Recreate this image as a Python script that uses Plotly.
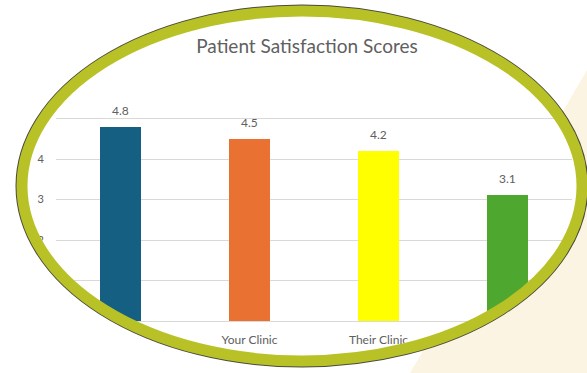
import numpy as np
import plotly.graph_objects as go

# ---- data ----
categories = ["", "Your Clinic", "Their Clinic", ""]
scores = [4.8, 4.5, 4.2, 3.1]
bar_colors = ["#156082", "#E97132", "#FFFF00", "#4EA72E"]
y_ticks = [0, 1, 2, 3, 4, 5, 6]
title_text = "Patient Satisfaction Scores"

W, H = 587, 373
L, R, T, B = 56, 15, 78, 52
PW, PH = W - L - R, H - T - B

def px(x):
    return (x - L) / PW

def py(y):
    return (H - B - y) / PH

xs = list(range(len(categories)))

fig = go.Figure()
fig.add_trace(go.Bar(
    x=xs, y=scores, marker=dict(color=bar_colors, line=dict(width=0)),
    width=0.32, showlegend=False, hoverinfo="skip",
))

gray = "#606060"
annotations = [
    dict(x=x, y=v, text=f"{v}", showarrow=False, yanchor="bottom", yshift=7,
         font=dict(family="Lato", size=12, color=gray))
    for x, v in zip(xs, scores)
]

# ---- decorative ellipse frame ----
cx, cy, a, b = 302, 186, 280, 175
t = np.linspace(0, 2 * np.pi, 241)
ex = cx + a * np.cos(t)
ey = cy + b * np.sin(t)
ell = "M " + " L ".join(f"{px(x):.4f},{py(y):.4f}" for x, y in zip(ex, ey)) + " Z"
rect = f"M {px(-20):.4f},{py(-20):.4f} L {px(W+20):.4f},{py(-20):.4f} L {px(W+20):.4f},{py(H+20):.4f} L {px(-20):.4f},{py(H+20):.4f} Z"

# cream region: right of a diagonal line, outside the ellipse
pts = []
ys = np.linspace(70, H + 5, 160)
for y in ys:
    lx = 410 + (H - y) * (177 / 303)
    if abs(y - cy) < b:
        hw = a * np.sqrt(1 - ((y - cy) / b) ** 2)
        if cx - hw < lx < cx + hw:
            lx = cx + hw
    pts.append((min(lx, W + 20), y))
cream = "M " + " L ".join(f"{px(x):.4f},{py(y):.4f}" for x, y in pts)
cream += f" L {px(W+20):.4f},{py(H+5):.4f} L {px(W+20):.4f},{py(70):.4f} Z"

shapes = [
    dict(type="path", path=rect + " " + ell, xref="paper", yref="paper",
         fillcolor="white", fillrule="evenodd", line=dict(width=0), layer="above"),
    dict(type="path", path=cream, xref="paper", yref="paper",
         fillcolor="#fcf4e3", line=dict(width=0), layer="above"),
    dict(type="circle", xref="paper", yref="paper",
         x0=px(cx - a - 5.5), x1=px(cx + a + 5.5), y0=py(cy + b + 5.5), y1=py(cy - b - 5.5),
         line=dict(color="#4a4a3c", width=2), layer="above"),
    dict(type="circle", xref="paper", yref="paper",
         x0=px(cx - a), x1=px(cx + a), y0=py(cy + b), y1=py(cy - b),
         line=dict(color="#b8c226", width=11), layer="above"),
]

fig.update_layout(
    width=W, height=H,
    margin=dict(l=L, r=R, t=T, b=B),
    paper_bgcolor="white", plot_bgcolor="white",
    title=dict(text=title_text, x=307 / W, xref="container", xanchor="center",
               y=1 - 46 / H, yref="container", yanchor="middle",
               font=dict(family="Lato", size=19, color=gray)),
    xaxis=dict(range=[-0.5, 3.5], tickvals=xs, ticktext=categories,
               showgrid=False, zeroline=False, showline=True, linecolor="#d9d9d9",
               linewidth=1, ticks="", ticklabelstandoff=8,
               tickfont=dict(family="Lato", size=12, color=gray), fixedrange=True),
    yaxis=dict(range=[0, 6], tickvals=y_ticks, showgrid=True, gridcolor="#d9d9d9",
               gridwidth=1, zeroline=False, showline=False, ticks="",
               ticklabelstandoff=11,
               tickfont=dict(family="Lato", size=11, color=gray), fixedrange=True),
    annotations=annotations,
    shapes=shapes,
    bargap=0,
)

fig.write_html("out.html", config={"displayModeBar": False})
